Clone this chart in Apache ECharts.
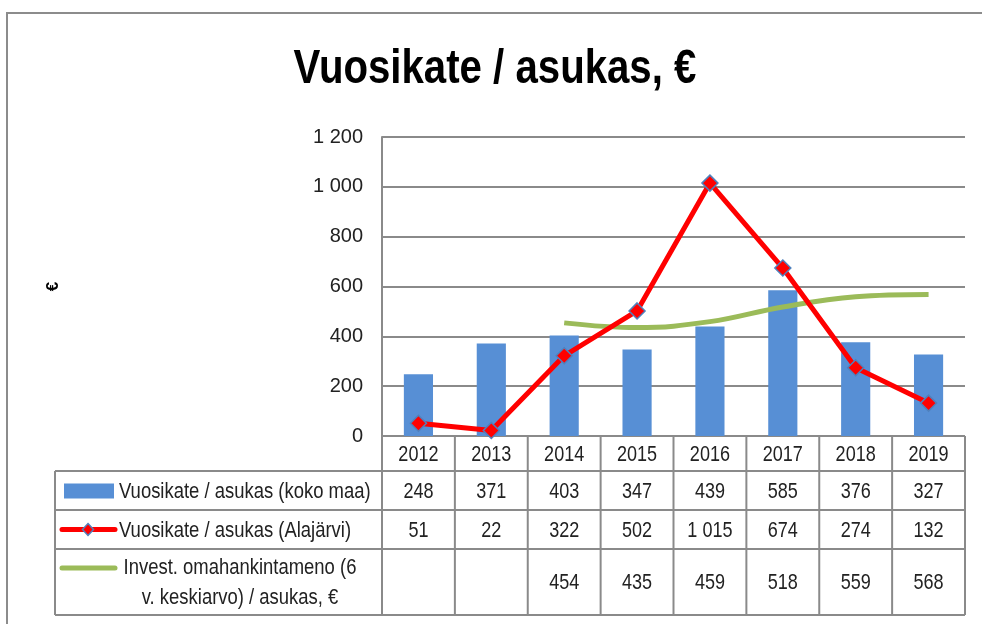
<!DOCTYPE html>
<html>
<head>
<meta charset="utf-8">
<script src="https://cdn.jsdelivr.net/npm/echarts@6/dist/echarts.min.js"></script>
<style>
  html, body { margin: 0; padding: 0; background: #fff; }
  #chart { width: 982px; height: 624px; }
</style>
</head>
<body>
<div id="chart"></div>
<script>
  // data
  const years = ['2012', '2013', '2014', '2015', '2016', '2017', '2018', '2019'];
  const kokoMaa = [248, 371, 403, 347, 439, 585, 376, 327];
  const alajarvi = [51, 22, 322, 502, 1015, 674, 274, 132];
  const invest = [null, null, 454, 435, 459, 518, 559, 568];
  const seriesNames = [
    'Vuosikate / asukas (koko maa)',
    'Vuosikate / asukas (Alajärvi)',
    'Invest. omahankintameno (6 v. keskiarvo) / asukas, €'
  ];

  const FONT = "'Liberation Sans', Arial, sans-serif";
  const NARROW = 0.82; // squeeze text horizontally, the original uses a narrow face
  const BLUE = '#578fd5';
  const RED = '#ff0000';
  const GREEN = '#9bbb59';
  const GRID_GREY = '#8a8a8a';

  // layout of plot + table
  const plotLeft = 382, plotRight = 17, plotTop = 137, plotBottom = 188;
  const rowEdges = [436, 471, 510, 549, 615];
  const tableLeft = 55;

  const fmt = v => (v == null ? '' : String(v).replace(/\B(?=(\d{3})+(?!\d))/g, ' '));

  const chart = echarts.init(document.getElementById('chart'));

  const option = {
    animation: false,
    backgroundColor: '#fff',
    grid: { left: plotLeft, right: plotRight, top: plotTop, bottom: plotBottom },
    xAxis: {
      type: 'category',
      data: years,
      axisLine: { show: false },
      axisTick: { show: false },
      axisLabel: { show: false }
    },
    yAxis: {
      type: 'value',
      min: 0,
      max: 1200,
      interval: 200,
      name: '€',
      nameLocation: 'middle',
      nameRotate: 90,
      nameGap: 320,
      nameTextStyle: { fontFamily: FONT, fontSize: 17, fontWeight: 'bold', color: '#000' },
      axisLine: { show: true, lineStyle: { color: GRID_GREY, width: 2 } },
      axisTick: { show: false },
      axisLabel: {
        margin: 19,
        fontFamily: FONT,
        fontSize: 20,
        color: '#222',
        formatter: v => fmt(v)
      },
      splitLine: { lineStyle: { color: GRID_GREY, width: 2 } }
    },
    series: [
      {
        name: seriesNames[0],
        type: 'bar',
        data: kokoMaa,
        barWidth: '40%',
        itemStyle: { color: BLUE }
      },
      {
        name: seriesNames[1],
        type: 'line',
        data: alajarvi,
        symbol: 'diamond',
        symbolSize: 16,
        lineStyle: { color: RED, width: 5 },
        itemStyle: { color: RED, borderColor: '#4f81bd', borderWidth: 1.5 },
        z: 4
      },
      {
        name: seriesNames[2],
        type: 'line',
        data: invest,
        smooth: 0.4,
        showSymbol: false,
        symbol: 'none',
        lineStyle: { color: GREEN, width: 5 },
        z: 3
      }
    ]
  };

  chart.setOption(option);

  const txt = (text, x, y, size, align, bold) => ({
    type: 'text',
    x: x, y: y,
    scaleX: NARROW,
    silent: true,
    style: {
      text: text,
      fontFamily: FONT,
      fontSize: size,
      fontWeight: bold ? 'bold' : 'normal',
      fill: bold ? '#000' : '#222',
      align: align,
      verticalAlign: 'middle'
    }
  });

  // title + data table under the plot
  function buildTable() {
    const centers = years.map((y, i) => chart.convertToPixel({ xAxisIndex: 0 }, i));
    const half = (centers[1] - centers[0]) / 2;
    const edges = centers.map(c => c - half).concat([centers[centers.length - 1] + half]);
    const right = edges[edges.length - 1];
    const lineStyle = { stroke: GRID_GREY, lineWidth: 2 };
    const els = [];

    // outer chart frame
    els.push({
      type: 'rect',
      shape: { x: 7, y: 13, width: 1000, height: 700 },
      style: { fill: 'none', stroke: '#8c8c8c', lineWidth: 2 },
      silent: true
    });

    els.push(txt('Vuosikate / asukas, €', 495, 69, 49, 'center', true));

    // horizontal lines
    els.push({ type: 'line', shape: { x1: edges[0], y1: rowEdges[0], x2: right, y2: rowEdges[0] }, style: lineStyle });
    for (let r = 1; r < rowEdges.length; r++) {
      els.push({ type: 'line', shape: { x1: tableLeft, y1: rowEdges[r], x2: right, y2: rowEdges[r] }, style: lineStyle });
    }
    // vertical lines
    edges.forEach(x => {
      els.push({ type: 'line', shape: { x1: x, y1: rowEdges[0], x2: x, y2: rowEdges[4] }, style: lineStyle });
    });
    els.push({ type: 'line', shape: { x1: tableLeft, y1: rowEdges[1], x2: tableLeft, y2: rowEdges[4] }, style: lineStyle });

    const rows = [years, kokoMaa.map(fmt), alajarvi.map(fmt), invest.map(fmt)];
    rows.forEach((vals, r) => {
      const cy = (rowEdges[r] + rowEdges[r + 1]) / 2 + 1;
      vals.forEach((v, i) => els.push(txt(v, centers[i], cy, 22, 'center')));
    });

    // legend keys
    const y1 = (rowEdges[1] + rowEdges[2]) / 2;
    const y2 = (rowEdges[2] + rowEdges[3]) / 2;
    const y3 = (rowEdges[3] + rowEdges[4]) / 2;
    els.push({ type: 'rect', shape: { x: 64, y: y1 - 7, width: 50, height: 15 }, style: { fill: BLUE } });
    els.push({ type: 'line', shape: { x1: 62, y1: y2, x2: 115, y2: y2 }, style: { stroke: RED, lineWidth: 5, lineCap: 'round' } });
    els.push({ type: 'polygon', shape: { points: [[88, y2 - 6], [93.5, y2], [88, y2 + 6], [82.5, y2]] }, style: { fill: RED, stroke: '#4f81bd', lineWidth: 1.5 } });
    els.push({ type: 'line', shape: { x1: 62, y1: y3 - 14, x2: 115, y2: y3 - 14 }, style: { stroke: GREEN, lineWidth: 5, lineCap: 'round' } });

    els.push(txt(seriesNames[0], 119, y1 + 1, 22.5, 'left'));
    els.push(txt(seriesNames[1], 119, y2 + 1, 22.5, 'left'));
    els.push(txt('Invest. omahankintameno (6', 240, y3 - 14, 22.5, 'center'));
    els.push(txt('v. keskiarvo) / asukas, €', 240, y3 + 16, 22.5, 'center'));

    chart.setOption({ graphic: { elements: els } });
  }

  buildTable();
</script>
</body>
</html>
